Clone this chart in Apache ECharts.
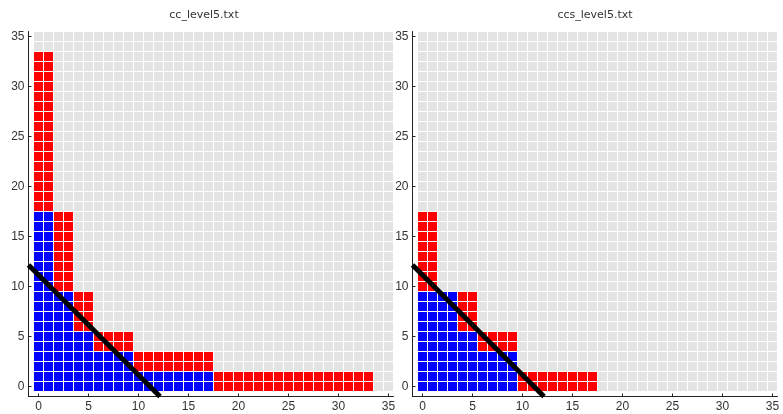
<!DOCTYPE html>
<html>
<head>
<meta charset="utf-8">
<script src="https://cdn.jsdelivr.net/npm/echarts@6/dist/echarts.min.js"></script>
<style>html,body{margin:0;padding:0;background:#fff}#c{width:783px;height:414px}</style>
</head>
<body>
<div id="c"></div>
<script>
// ---- data ----
const titles = ['cc_level5.txt', 'ccs_level5.txt'];
const tickValues = [0, 5, 10, 15, 20, 25, 30, 35];
// number of blue cells (from y=0 upward) per column x=0,1,2,...
const ccBlueCount  = [18,18,10,10,6,6,4,4,4,4,2,2,2,2,2,2,2,2,0,0,0,0,0,0,0,0,0,0,0,0,0,0,0,0];
// total number of coloured cells (blue + red) per column
const ccTotalCount = [34,34,18,18,10,10,6,6,6,6,4,4,4,4,4,4,4,4,2,2,2,2,2,2,2,2,2,2,2,2,2,2,2,2];
const ccsBlueCount  = [10,10,10,10,6,6,4,4,4,4,0,0,0,0,0,0,0,0];
const ccsTotalCount = [18,18,10,10,10,10,6,6,6,6,2,2,2,2,2,2,2,2];
// black separating line endpoints [x, y]
const lineX = [-1, 12.15];
const lineY = [12.15, -1];
const gridCells = 36; // 0..35

// ---- build cell lists ----
function cells(blue, total) {
  const b = [], r = [];
  for (let x = 0; x < total.length; x++) {
    for (let y = 0; y < total[x]; y++) {
      (y < blue[x] ? b : r).push([x, y]);
    }
  }
  return { b, r };
}
const panels = [cells(ccBlueCount, ccTotalCount), cells(ccsBlueCount, ccsTotalCount)];
const bg = [];
for (let x = 0; x < gridCells; x++) for (let y = 0; y < gridCells; y++) bg.push([x, y]);

function cellRender(color) {
  return function (params, api) {
    const p = api.coord([api.value(0) - 0.5, api.value(1) + 0.5]);
    const s = api.size([1, 1]);
    return {
      type: 'rect',
      shape: { x: p[0] + 0.5, y: p[1] + 0.5, width: s[0] - 1, height: s[1] - 1 },
      style: { fill: color }
    };
  };
}

const gridLefts = [28.5, 412.5];
const titleX = [204, 595];
const chart = echarts.init(document.getElementById('c'), null, { renderer: 'canvas' });

const axisCommon = {
  type: 'value', min: -1, max: 35.5,
  splitLine: { show: false },
  axisLine: { show: true, onZero: false, lineStyle: { color: '#222', width: 1 } },
  axisTick: { show: true, inside: true, length: 3, customValues: tickValues, lineStyle: { color: '#222' } },
  axisLabel: { customValues: tickValues, color: '#333', fontSize: 12, fontFamily: 'Liberation Sans, Arial, sans-serif', margin: 4 }
};

const series = [];
panels.forEach((pn, i) => {
  series.push({ type: 'custom', xAxisIndex: i, yAxisIndex: i, renderItem: cellRender('#e4e4e4'), data: bg, silent: true, z: 1 });
  series.push({ type: 'custom', xAxisIndex: i, yAxisIndex: i, renderItem: cellRender('#0000ff'), data: pn.b, silent: true, z: 2 });
  series.push({ type: 'custom', xAxisIndex: i, yAxisIndex: i, renderItem: cellRender('#ff0000'), data: pn.r, silent: true, z: 2 });
  series.push({ type: 'line', xAxisIndex: i, yAxisIndex: i, data: [[lineX[0], lineY[0]], [lineX[1], lineY[1]]],
    showSymbol: false, symbol: 'none', lineStyle: { color: '#000', width: 5 }, z: 3, silent: true });
});

chart.setOption({
  animation: false,
  backgroundColor: '#fff',
  grid: gridLefts.map(l => ({ left: l, top: 31.5, width: 365, height: 365 })),
  xAxis: gridLefts.map((l, i) => Object.assign({}, axisCommon, { gridIndex: i, position: 'bottom' })),
  yAxis: gridLefts.map((l, i) => Object.assign({}, axisCommon, { gridIndex: i, position: 'left' })),
  graphic: titles.map((t, i) => ({
    type: 'text', x: titleX[i], y: 15,
    style: { text: t, fill: '#333', font: '11px "DejaVu Sans", sans-serif', textAlign: 'center', textVerticalAlign: 'middle' }
  })),
  series
});
</script>
</body>
</html>
